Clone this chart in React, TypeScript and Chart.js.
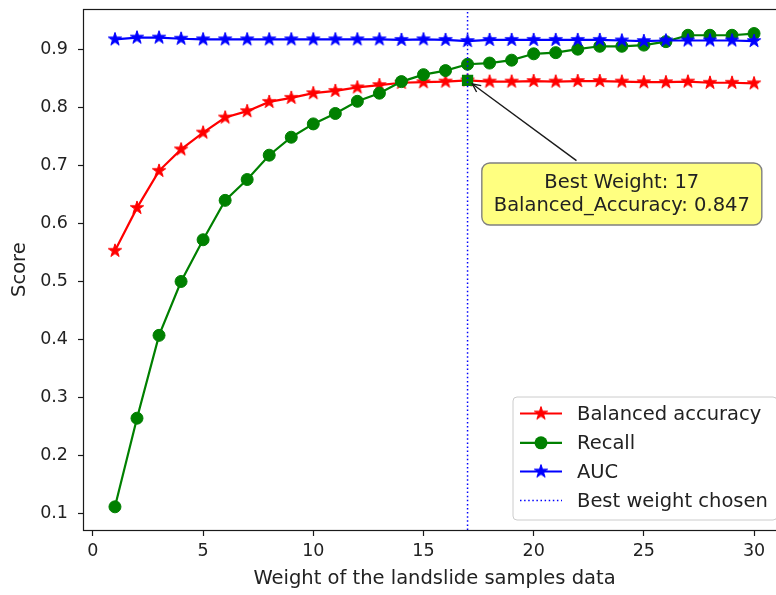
import React, { useEffect, useRef } from "react";
import { Chart, registerables } from "chart.js";

Chart.register(...registerables);

// ---------------- data ----------------
const weights = [1, 2, 3, 4, 5, 6, 7, 8, 9, 10, 11, 12, 13, 14, 15, 16, 17, 18, 19, 20, 21, 22, 23, 24, 25, 26, 27, 28, 29, 30];
const balancedAccuracy = [0.553, 0.627, 0.691, 0.728, 0.757, 0.783, 0.794, 0.810, 0.817, 0.825, 0.829, 0.835, 0.839, 0.843, 0.844, 0.845, 0.847, 0.845, 0.845, 0.846, 0.845, 0.846, 0.846, 0.845, 0.844, 0.844, 0.845, 0.843, 0.843, 0.842];
const recall = [0.111, 0.264, 0.407, 0.500, 0.572, 0.640, 0.676, 0.718, 0.749, 0.772, 0.790, 0.811, 0.825, 0.845, 0.857, 0.864, 0.875, 0.877, 0.882, 0.893, 0.895, 0.901, 0.906, 0.906, 0.908, 0.914, 0.925, 0.925, 0.925, 0.928];
const auc = [0.918, 0.921, 0.921, 0.919, 0.918, 0.918, 0.918, 0.918, 0.918, 0.918, 0.918, 0.918, 0.918, 0.917, 0.918, 0.917, 0.915, 0.917, 0.917, 0.917, 0.917, 0.917, 0.917, 0.916, 0.915, 0.916, 0.916, 0.916, 0.916, 0.915];
const xTicks = [0, 5, 10, 15, 20, 25, 30];
const yTicks = [0.1, 0.2, 0.3, 0.4, 0.5, 0.6, 0.7, 0.8, 0.9];
const seriesLabels = ["Balanced accuracy", "Recall", "AUC", "Best weight chosen"];
const bestWeight = 17;
const bestScore = 0.847;
const annotationText = ["Best Weight: 17", "Balanced_Accuracy: 0.847"];
const annotationAnchor = { x: 24, y: 0.651 };
const xTitle = "Weight of the landslide samples data";
const yTitle = "Score";

// ---------------- styles ----------------
const X_MIN = -0.45, X_MAX = 31.45, Y_MIN = 0.071, Y_MAX = 0.970;
const FONT = "'DejaVu Sans', sans-serif";
const TICK_SIZE = 17.5;
const LABEL_SIZE = 19.5;
const TEXT_COLOR = "#222222";
const RED = "#ff0000", GREEN = "#008000", BLUE = "#0000ff";

function makeStar(color: string, R: number): HTMLCanvasElement {
  const size = Math.ceil(R * 2 + 4);
  const c = document.createElement("canvas");
  c.width = size;
  c.height = size;
  const ctx = c.getContext("2d")!;
  const cx = size / 2, cy = size / 2, r = R * 0.382;
  ctx.beginPath();
  for (let i = 0; i < 10; i++) {
    const a = -Math.PI / 2 + (i * Math.PI) / 5;
    const rad = i % 2 === 0 ? R : r;
    ctx.lineTo(cx + rad * Math.cos(a), cy + rad * Math.sin(a));
  }
  ctx.closePath();
  ctx.fillStyle = color;
  ctx.fill();
  ctx.strokeStyle = color;
  ctx.lineWidth = 1;
  ctx.stroke();
  return c;
}

function roundRect(ctx: CanvasRenderingContext2D, x: number, y: number, w: number, h: number, r: number) {
  ctx.beginPath();
  ctx.moveTo(x + r, y);
  ctx.lineTo(x + w - r, y);
  ctx.arcTo(x + w, y, x + w, y + r, r);
  ctx.lineTo(x + w, y + h - r);
  ctx.arcTo(x + w, y + h, x + w - r, y + h, r);
  ctx.lineTo(x + r, y + h);
  ctx.arcTo(x, y + h, x, y + h - r, r);
  ctx.lineTo(x, y + r);
  ctx.arcTo(x, y, x + r, y, r);
  ctx.closePath();
}

export default function App() {
  const canvasRef = useRef<HTMLCanvasElement | null>(null);

  useEffect(() => {
    const canvas = canvasRef.current;
    if (!canvas) return;
    const redStar = makeStar(RED, 7);
    const blueStar = makeStar(BLUE, 7);

    const toXY = (vals: number[]) => weights.map((w, i) => ({ x: w, y: vals[i] }));

    const overlay = {
      id: "overlay",
      afterDraw(chart: any) {
        const ctx: CanvasRenderingContext2D = chart.ctx;
        const { left, right, top, bottom } = chart.chartArea;
        const xs = chart.scales.x, ys = chart.scales.y;
        ctx.save();
        // frame (spines)
        ctx.strokeStyle = "#1a1a1a";
        ctx.lineWidth = 1.2;
        ctx.strokeRect(Math.round(left) + 0.5, Math.round(top) + 0.5, Math.round(right - left), Math.round(bottom - top));

        // annotation
        const px = xs.getPixelForValue(bestWeight);
        const py = ys.getPixelForValue(bestScore);
        const cx = xs.getPixelForValue(annotationAnchor.x);
        const cy = ys.getPixelForValue(annotationAnchor.y);
        const bw = 280, bh = 62;
        const bx = cx - bw / 2, by = cy - bh / 2;
        // arrow
        const dx = px - cx, dy = py - cy;
        const len = Math.hypot(dx, dy);
        const ux = dx / len, uy = dy / len;
        const tEdge = Math.min(Math.abs((bh / 2) / uy), Math.abs((bw / 2) / ux));
        const sx = cx + ux * (tEdge + 4), sy = cy + uy * (tEdge + 4);
        const ex = px - ux * 6, ey = py - uy * 6;
        ctx.strokeStyle = "#1a1a1a";
        ctx.lineWidth = 1.4;
        ctx.beginPath();
        ctx.moveTo(sx, sy);
        ctx.lineTo(ex, ey);
        ctx.stroke();
        const ah = 9, aw = 0.45;
        const ang = Math.atan2(-uy, -ux);
        ctx.beginPath();
        ctx.moveTo(ex + ah * Math.cos(ang + aw), ey + ah * Math.sin(ang + aw));
        ctx.lineTo(ex, ey);
        ctx.lineTo(ex + ah * Math.cos(ang - aw), ey + ah * Math.sin(ang - aw));
        ctx.stroke();
        // box
        roundRect(ctx, bx, by, bw, bh, 8);
        ctx.fillStyle = "#ffff80";
        ctx.fill();
        ctx.strokeStyle = "#808080";
        ctx.lineWidth = 1.4;
        ctx.stroke();
        ctx.fillStyle = TEXT_COLOR;
        ctx.font = `${LABEL_SIZE}px ${FONT}`;
        ctx.textAlign = "center";
        ctx.textBaseline = "middle";
        ctx.fillText(annotationText[0], cx, cy - 11);
        ctx.fillText(annotationText[1], cx, cy + 12);

        // legend
        const lw = 264, lh = 123;
        const lx = right - 9 - lw, ly = bottom - 10 - lh;
        roundRect(ctx, lx, ly, lw, lh, 4);
        ctx.fillStyle = "rgba(255,255,255,0.8)";
        ctx.fill();
        ctx.strokeStyle = "#cccccc";
        ctx.lineWidth = 1;
        ctx.stroke();
        const rowY = [16.5, 45.8, 74.5, 103.5];
        const h0 = lx + 7, h1 = lx + 49, hm = (h0 + h1) / 2;
        ctx.font = `${LABEL_SIZE}px ${FONT}`;
        ctx.textAlign = "left";
        ctx.textBaseline = "middle";
        const colors = [RED, GREEN, BLUE, BLUE];
        seriesLabels.forEach((lab, i) => {
          const y = ly + rowY[i];
          ctx.strokeStyle = colors[i];
          if (i === 3) {
            ctx.lineWidth = 1.4;
            ctx.setLineDash([1.5, 2.6]);
          } else {
            ctx.lineWidth = 2.2;
            ctx.setLineDash([]);
          }
          ctx.beginPath();
          ctx.moveTo(h0, y);
          ctx.lineTo(h1, y);
          ctx.stroke();
          ctx.setLineDash([]);
          if (i === 0) ctx.drawImage(redStar, hm - redStar.width / 2, y - redStar.height / 2);
          if (i === 2) ctx.drawImage(blueStar, hm - blueStar.width / 2, y - blueStar.height / 2);
          if (i === 1) {
            ctx.beginPath();
            ctx.arc(hm, y, 6.5, 0, Math.PI * 2);
            ctx.fillStyle = GREEN;
            ctx.fill();
          }
          ctx.fillStyle = TEXT_COLOR;
          ctx.fillText(lab, lx + 64, y + 1);
        });
        ctx.restore();
      },
    };

    const chart = new Chart(canvas, {
      type: "line",
      data: {
        datasets: [
          {
            label: seriesLabels[3],
            data: [{ x: bestWeight, y: Y_MIN }, { x: bestWeight, y: Y_MAX }],
            borderColor: BLUE,
            borderWidth: 1.5,
            borderDash: [1.5, 2.6],
            pointRadius: 0,
            order: 0,
          },
          {
            label: "best",
            data: [{ x: bestWeight, y: bestScore }],
            showLine: false,
            pointStyle: "rect",
            pointRadius: 8,
            pointBackgroundColor: GREEN,
            pointBorderColor: GREEN,
            pointBorderWidth: 0,
            order: 1,
          },
          {
            label: seriesLabels[2],
            data: toXY(auc),
            borderColor: BLUE,
            borderWidth: 2.2,
            pointStyle: blueStar,
            pointRadius: 7,
            order: 2,
          },
          {
            label: seriesLabels[1],
            data: toXY(recall),
            borderColor: GREEN,
            borderWidth: 2.2,
            pointStyle: "circle",
            pointRadius: 6,
            pointBorderWidth: 1,
            pointBackgroundColor: GREEN,
            pointBorderColor: GREEN,
            order: 3,
          },
          {
            label: seriesLabels[0],
            data: toXY(balancedAccuracy),
            borderColor: RED,
            borderWidth: 2.2,
            pointStyle: redStar,
            pointRadius: 7,
            order: 4,
          },
        ],
      },
      options: {
        responsive: false,
        animation: false,
        devicePixelRatio: 1,
        layout: { padding: { left: 0, top: 7, right: 14, bottom: 0 } },
        plugins: { legend: { display: false }, tooltip: { enabled: false } },
        elements: { line: { tension: 0 } },
        scales: {
          x: {
            type: "linear",
            min: X_MIN,
            max: X_MAX,
            afterBuildTicks: (s: any) => {
              s.ticks = xTicks.map((v) => ({ value: v }));
            },
            afterFit: (s: any) => {
              s.height = 65;
              s.paddingLeft = 0;
              s.paddingRight = 0;
            },
            ticks: {
              font: { family: FONT, size: TICK_SIZE },
              color: TEXT_COLOR,
              padding: 5,
              maxRotation: 0,
              autoSkip: false,
              callback: (v: any) => String(v),
            },
            grid: { drawOnChartArea: false, drawTicks: true, tickLength: 6, tickColor: "#1a1a1a", tickWidth: 1.2 },
            border: { display: false },
            title: {
              display: true,
              text: xTitle,
              font: { family: FONT, size: LABEL_SIZE },
              color: TEXT_COLOR,
              padding: { top: 0, bottom: 4 },
            },
          },
          y: {
            type: "linear",
            min: Y_MIN,
            max: Y_MAX,
            afterBuildTicks: (s: any) => {
              s.ticks = yTicks.map((v) => ({ value: v }));
            },
            afterFit: (s: any) => {
              s.width = 83;
              s.paddingTop = 0;
              s.paddingBottom = 0;
            },
            ticks: {
              font: { family: FONT, size: TICK_SIZE },
              color: TEXT_COLOR,
              padding: 10,
              autoSkip: false,
              callback: (v: any) => Number(v).toFixed(1),
            },
            grid: { drawOnChartArea: false, drawTicks: true, tickLength: 5, tickColor: "#1a1a1a", tickWidth: 1.2 },
            border: { display: false },
            title: {
              display: true,
              text: yTitle,
              font: { family: FONT, size: LABEL_SIZE },
              color: TEXT_COLOR,
              padding: { top: 8, bottom: 0 },
            },
          },
        },
      },
      plugins: [overlay],
    } as any);

    return () => chart.destroy();
  }, []);

  return (
    <div style={{ position: "fixed", left: 0, top: 0, width: 776, height: 595, overflow: "hidden", background: "#fff" }}>
      <canvas ref={canvasRef} width={800} height={595} style={{ width: 800, height: 595, display: "block" }} />
    </div>
  );
}
